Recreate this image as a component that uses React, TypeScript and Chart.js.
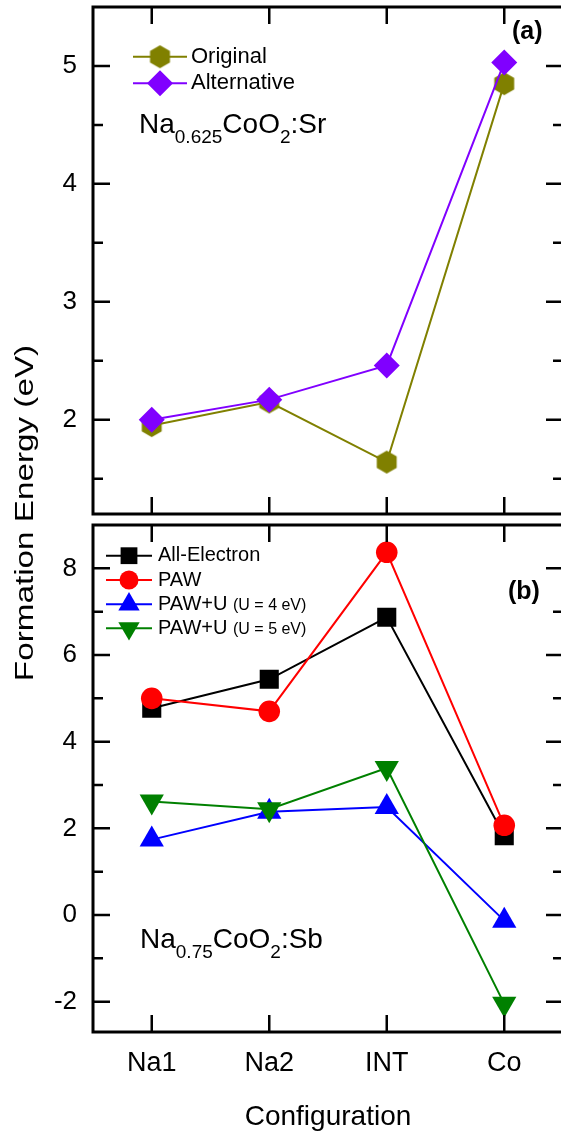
import React, { useEffect, useRef } from 'react';
import { Chart, registerables } from 'chart.js';
import { drawPoint } from 'chart.js/helpers';

Chart.register(...registerables);

// ---------- data ----------
const categories = ['Na1', 'Na2', 'INT', 'Co'];
const originalSr = [1.95, 2.15, 1.64, 4.85];
const alternativeSr = [2.0, 2.17, 2.46, 5.03];
const allElectron = [4.77, 5.44, 6.87, 1.83];
const paw = [5.0, 4.7, 8.37, 2.07];
const pawU4 = [1.74, 2.38, 2.49, -0.13];
const pawU5 = [2.62, 2.44, 3.39, -2.05];
const yTicksA = [2, 3, 4, 5];
const yMinorA = [1.5, 2.5, 3.5, 4.5];
const yTicksB = [-2, 0, 2, 4, 6, 8];
const yMinorB = [-1, 1, 3, 5, 7];
const formulaA: [string, boolean][] = [['Na', false], ['0.625', true], ['CoO', false], ['2', true], [':Sr', false]];
const formulaB: [string, boolean][] = [['Na', false], ['0.75', true], ['CoO', false], ['2', true], [':Sb', false]];
const yTitle = 'Formation Energy (eV)';
const xTitle = 'Configuration';

const FONT = '"Liberation Sans", Arial, Helvetica, sans-serif';

function makeHexagon(color: string, R: number) {
  const c = document.createElement('canvas');
  const w = Math.ceil(R * 2 + 2);
  c.width = w;
  c.height = w;
  const g = c.getContext('2d')!;
  g.fillStyle = color;
  g.beginPath();
  for (let i = 0; i < 6; i++) {
    const a = -Math.PI / 2 + (i * Math.PI) / 3;
    const px = w / 2 + R * Math.cos(a);
    const py = w / 2 + R * Math.sin(a);
    if (i === 0) g.moveTo(px, py);
    else g.lineTo(px, py);
  }
  g.closePath();
  g.fill();
  return c;
}

function zeroPad(s: any) {
  s.paddingTop = 0;
  s.paddingBottom = 0;
  s.paddingLeft = 0;
  s.paddingRight = 0;
}

function framePlugin(major: number[], minor: number[]) {
  return {
    id: 'frame',
    afterDraw(chart: any) {
      const { ctx, chartArea: a, scales } = chart;
      const xs = scales.x;
      const ys = scales.y;
      ctx.save();
      ctx.strokeStyle = '#000';
      ctx.lineWidth = 2.5;
      ctx.beginPath();
      for (const v of major) {
        const p = ys.getPixelForValue(v);
        ctx.moveTo(a.left, p);
        ctx.lineTo(a.left + 17, p);
        ctx.moveTo(a.right, p);
        ctx.lineTo(a.right - 17, p);
      }
      for (const v of minor) {
        const p = ys.getPixelForValue(v);
        ctx.moveTo(a.left, p);
        ctx.lineTo(a.left + 10, p);
        ctx.moveTo(a.right, p);
        ctx.lineTo(a.right - 10, p);
      }
      for (let i = 0; i < categories.length; i++) {
        const p = xs.getPixelForValue(i);
        ctx.moveTo(p, a.top);
        ctx.lineTo(p, a.top + 17);
        ctx.moveTo(p, a.bottom);
        ctx.lineTo(p, a.bottom - 17);
      }
      ctx.stroke();
      ctx.lineWidth = 3;
      ctx.strokeRect(a.left, a.top, a.right - a.left, a.bottom - a.top);
      ctx.restore();
    },
  };
}

function drawRich(ctx: CanvasRenderingContext2D, parts: [string, boolean][], x: number, base: number, size: number, subSize: number, drop: number) {
  let cx = x;
  ctx.fillStyle = '#000';
  ctx.textAlign = 'left';
  ctx.textBaseline = 'alphabetic';
  for (const [t, sub] of parts) {
    ctx.font = `${sub ? subSize : size}px ${FONT}`;
    ctx.fillText(t, cx, sub ? base + drop : base);
    cx += ctx.measureText(t).width;
  }
}

function legendPlugin(cfg: { x0: number; x1: number; mx: number; tx: number; rows: number[]; size: number; small: number; scale: number }) {
  return {
    id: 'customLegend',
    afterDraw(chart: any) {
      const { ctx } = chart;
      ctx.save();
      chart.data.datasets.forEach((ds: any, i: number) => {
        const y = cfg.rows[i];
        ctx.strokeStyle = ds.borderColor;
        ctx.fillStyle = ds.backgroundColor;
        ctx.lineWidth = 2;
        ctx.beginPath();
        ctx.moveTo(cfg.x0, y);
        ctx.lineTo(cfg.x1, y);
        ctx.stroke();
        drawPoint(ctx, {
          pointStyle: ds.pointStyle,
          rotation: ds.pointRotation || 0,
          radius: (ds.pointRadius || 10) * cfg.scale,
          borderWidth: 0,
        } as any, cfg.mx, y);
        const label: string = ds.label;
        const k = label.indexOf(' (');
        ctx.fillStyle = '#000';
        ctx.textAlign = 'left';
        ctx.textBaseline = 'middle';
        ctx.font = `${cfg.size}px ${FONT}`;
        const main = k >= 0 ? label.slice(0, k) : label;
        ctx.fillText(main, cfg.tx, y);
        if (k >= 0) {
          const w = ctx.measureText(main + ' ').width;
          ctx.font = `${cfg.small}px ${FONT}`;
          ctx.fillText(label.slice(k + 1), cfg.tx + w, y + 1);
        }
      });
      ctx.restore();
    },
  };
}

function textPlugin(id: string, fn: (ctx: CanvasRenderingContext2D) => void) {
  return {
    id,
    afterDraw(chart: any) {
      const ctx = chart.ctx;
      ctx.save();
      fn(ctx);
      ctx.restore();
    },
  };
}

const yScaleBase = (min: number, max: number, ticks: number[]) => ({
  min,
  max,
  afterBuildTicks: (s: any) => {
    s.ticks = ticks.map((v) => ({ value: v }));
  },
  afterFit: (s: any) => {
    s.width = 93;
    zeroPad(s);
  },
  grid: { display: false, drawTicks: false },
  border: { display: false },
  ticks: {
    padding: 16,
    color: '#000',
    font: { family: FONT, size: 26 },
    callback: (v: any) => String(v),
  },
});

export default function App() {
  const refA = useRef<HTMLCanvasElement>(null);
  const refB = useRef<HTMLCanvasElement>(null);

  useEffect(() => {
    const hex = makeHexagon('#808000', 11.5);
    const chartA = new Chart(refA.current!, {
      type: 'line',
      data: {
        labels: categories,
        datasets: [
          {
            label: 'Original',
            data: originalSr,
            borderColor: '#808000',
            backgroundColor: '#808000',
            pointStyle: hex as any,
            pointRadius: 12,
            pointBorderWidth: 0,
            borderWidth: 2,
            order: 1,
          },
          {
            label: 'Alternative',
            data: alternativeSr,
            borderColor: '#8000FF',
            backgroundColor: '#8000FF',
            pointStyle: 'rectRot',
            pointRadius: 13,
            pointBorderWidth: 0,
            borderWidth: 2,
            order: 0,
          },
        ],
      },
      options: {
        animation: false,
        responsive: false,
        devicePixelRatio: 1,
        layout: { autoPadding: false, padding: { top: 7, bottom: 6, right: 7, left: 0 } },
        plugins: { legend: { display: false }, tooltip: { enabled: false } },
        scales: {
          x: { type: 'category', offset: true, display: false, afterFit: (s: any) => zeroPad(s) },
          y: yScaleBase(1.2, 5.5, yTicksA) as any,
        },
      },
      plugins: [
        framePlugin(yTicksA, yMinorA),
        legendPlugin({ x0: 133, x1: 187, mx: 160, tx: 191, rows: [56.7, 83.3], size: 22, small: 22, scale: 1 }),
        textPlugin('txtA', (ctx) => {
          drawRich(ctx, formulaA, 139, 133, 28, 19, 10);
          ctx.font = `bold 25px ${FONT}`;
          ctx.textBaseline = 'middle';
          ctx.fillText('(a)', 512, 32);
        }),
      ],
    } as any);

    const chartB = new Chart(refB.current!, {
      type: 'line',
      data: {
        labels: categories,
        datasets: [
          {
            label: 'All-Electron',
            data: allElectron,
            borderColor: '#000000',
            backgroundColor: '#000000',
            pointStyle: 'rect',
            pointRadius: 13.5,
            pointBorderWidth: 0,
            borderWidth: 2,
            order: 3,
          },
          {
            label: 'PAW',
            data: paw,
            borderColor: '#FF0000',
            backgroundColor: '#FF0000',
            pointStyle: 'circle',
            pointRadius: 10.8,
            pointBorderWidth: 0,
            borderWidth: 2,
            order: 2,
          },
          {
            label: 'PAW+U (U = 4 eV)',
            data: pawU4,
            borderColor: '#0000FF',
            backgroundColor: '#0000FF',
            pointStyle: 'triangle',
            pointRadius: 14,
            pointBorderWidth: 0,
            borderWidth: 2,
            order: 1,
          },
          {
            label: 'PAW+U (U = 5 eV)',
            data: pawU5,
            borderColor: '#008000',
            backgroundColor: '#008000',
            pointStyle: 'triangle',
            pointRotation: 180,
            pointRadius: 14,
            pointBorderWidth: 0,
            borderWidth: 2,
            order: 0,
          },
        ],
      },
      options: {
        animation: false,
        responsive: false,
        devicePixelRatio: 1,
        layout: { autoPadding: false, padding: { top: 525, bottom: 0, right: 7, left: 0 } },
        plugins: { legend: { display: false }, tooltip: { enabled: false } },
        scales: {
          x: {
            type: 'category',
            offset: true,
            grid: { display: false, drawTicks: false },
            border: { display: false },
            ticks: {
              color: '#000',
              padding: 15,
              maxRotation: 0,
              autoSkip: false,
              font: { family: FONT, size: 27 },
            },
            title: {
              display: true,
              text: xTitle,
              color: '#000',
              font: { family: FONT, size: 28, lineHeight: 1 },
              padding: { top: 0, bottom: 1 },
            },
            afterFit: (s: any) => {
              s.height = 100;
              zeroPad(s);
            },
          },
          y: yScaleBase(-2.7, 9.0, yTicksB) as any,
        },
      },
      plugins: [
        framePlugin(yTicksB, yMinorB),
        legendPlugin({ x0: 106, x1: 152, mx: 129, tx: 158, rows: [555.7, 580, 604.3, 628.3], size: 20, small: 16, scale: 0.88 }),
        textPlugin('txtB', (ctx) => {
          drawRich(ctx, formulaB, 140, 948, 28, 19, 10);
          ctx.font = `bold 25px ${FONT}`;
          ctx.textBaseline = 'middle';
          ctx.fillText('(b)', 508, 592);
          ctx.translate(33, 513);
          ctx.rotate(-Math.PI / 2);
          ctx.scale(1.33, 1);
          ctx.font = `25px ${FONT}`;
          ctx.textAlign = 'center';
          ctx.textBaseline = 'alphabetic';
          ctx.fillText(yTitle, 0, 0);
        }),
      ],
    } as any);

    return () => {
      chartA.destroy();
      chartB.destroy();
    };
  }, []);

  return (
    <div style={{ position: 'absolute', left: 0, top: 0, width: 561, height: 1132, overflow: 'hidden', background: '#fff' }}>
      <canvas ref={refA} width={570} height={520} style={{ position: 'absolute', left: 0, top: 0 }} />
      <canvas ref={refB} width={570} height={1132} style={{ position: 'absolute', left: 0, top: 0 }} />
    </div>
  );
}
